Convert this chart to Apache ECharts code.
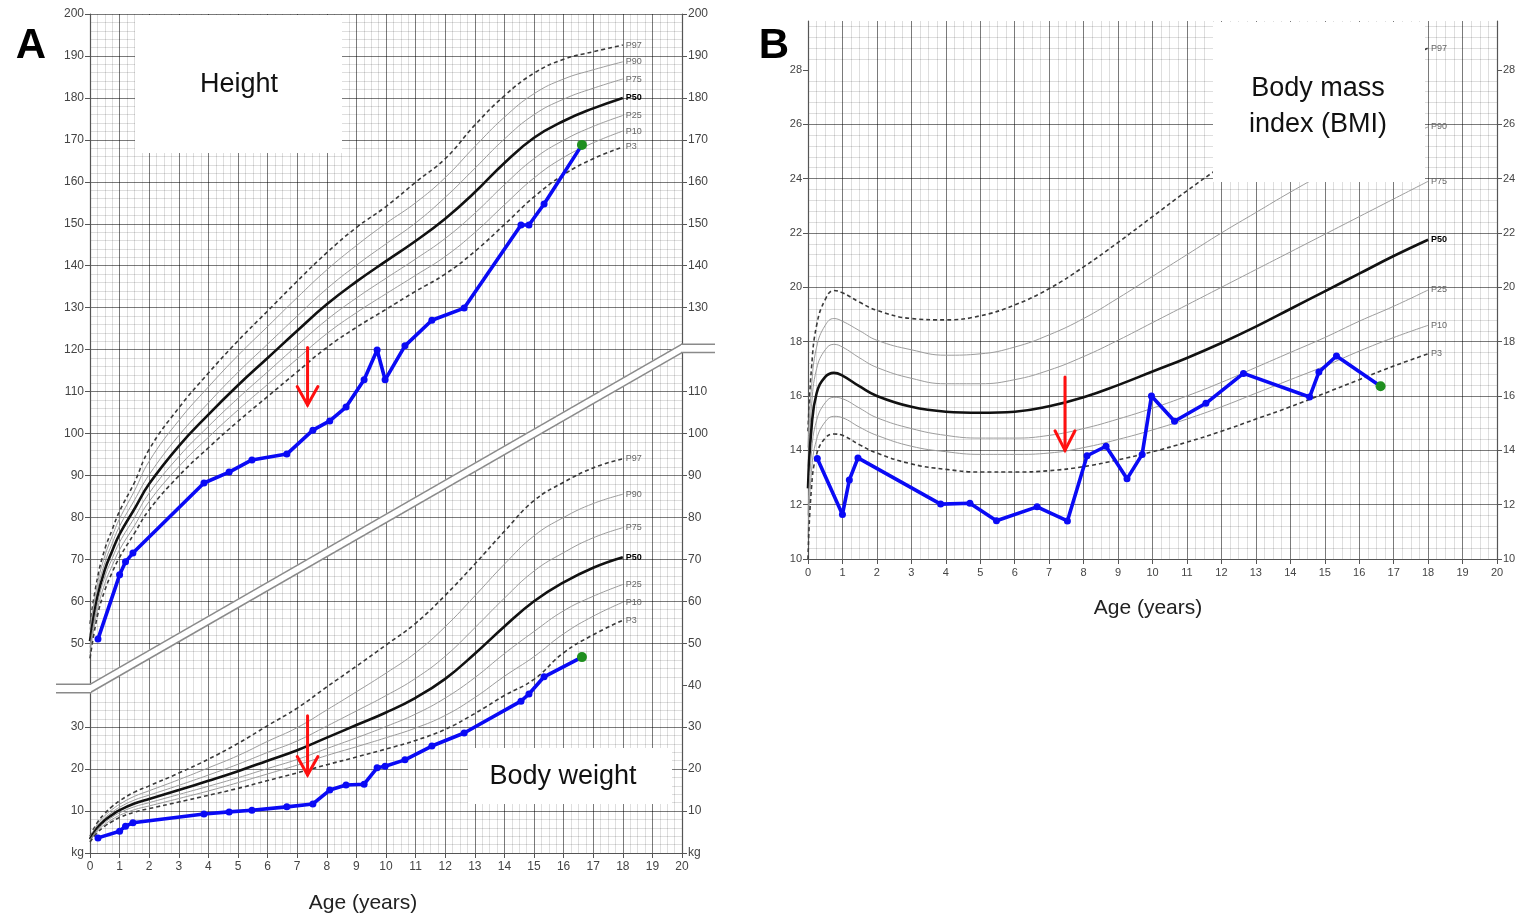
<!DOCTYPE html>
<html><head><meta charset="utf-8">
<script src="https://cdn.jsdelivr.net/npm/echarts@6/dist/echarts.min.js"></script>
<style>html,body{margin:0;padding:0;background:#fff}#c{width:1520px;height:918px}</style>
</head><body><div id="c"></div>
<script>
// ---------- Panel A: height / weight reference percentiles ----------
const ageA = [0,0.25,0.5,0.75,1,1.5,2,3,4,5,6,7,8,9,10,11,12,13,14,15,16,17,18];
const hP3  = [46.4,56.5,62.6,66.9,70.5,76.2,81.8,89.9,96.6,102.9,108.8,114.7,120.5,125.3,129.6,133.9,138.0,143.4,149.8,156.4,161.7,165.5,168.3];
const hP10 = [47.7,57.9,64.2,68.5,72.3,78,83.8,92.1,99.1,105.6,111.7,117.8,123.8,128.8,133.3,137.7,142.2,147.9,154.5,160.9,165.8,169.3,172.1];
const hP25 = [49,59.4,65.8,70.2,74.1,79.9,85.8,94.5,101.7,108.4,114.7,121,127.1,132.3,137,141.6,146.5,152.5,159.3,165.5,169.9,173.2,175.8];
const hP50 = [50.5,61,67.5,72,76,82,88,97,104.5,111.5,118,124.5,130.8,136.2,141.1,145.9,151.2,157.5,164.5,170.5,174.5,177.5,180];
const hP75 = [52,62.6,69.2,73.8,77.9,84.1,90.2,99.5,107.3,114.6,121.3,128,134.5,140.1,145.2,150.2,156.3,163.2,170.2,176,179.7,182.3,184.5];
const hP90 = [53.3,64.1,70.8,75.5,79.7,86.3,93.4,103.1,111.1,118.6,125.5,132.4,139,144.8,150.1,155,161,168.4,175.4,181,184.5,186.7,188.6];
const hP97 = [54.6,65.5,72.4,77.1,81.5,88.3,96.2,106.1,114.4,122.1,129.2,136.3,143.1,149.1,154.1,159.9,165.5,173.5,180.5,185.9,189.2,191,192.6];

const wP3  = [2.64,4.86,6.4,7.51,8.47,9.74,10.58,12.15,13.76,15.4,17.27,19.11,21.04,22.88,24.79,26.83,29.47,33.25,37.53,41.4,47.73,52.02,55.48];
const wP10 = [2.84,5.22,6.83,8.01,8.98,10.33,11.22,12.98,14.79,16.77,18.85,20.95,23.24,25.32,27.47,29.79,32.79,37.05,42.12,46.8,52.25,56.44,59.78];
const wP25 = [3.07,5.61,7.29,8.55,9.59,11.03,12.0,13.95,15.91,17.94,20.13,22.3,24.89,27.45,30.15,33.12,36.94,41.8,47.52,52.8,57.73,61.2,64.01];
const wP50 = [3.3,6,7.8,9.1,10.2,11.8,12.9,15,17.2,19.5,22,24.5,27.5,30.5,33.5,37,41.5,47.5,54,60,64.5,68,70.5];
const wP75 = [3.53,6.42,8.35,9.74,10.91,12.63,13.8,16.13,18.58,21.16,23.98,26.71,30.25,33.86,37.52,41.63,46.9,53.68,60.75,67.2,71.6,75.14,77.55];
const wP90 = [3.76,6.84,8.89,10.37,11.63,13.51,14.84,17.48,20.3,23.21,26.62,29.89,34.1,38.43,42.88,47.73,53.95,61.28,68.85,75.6,79.98,83.3,85.52];
const wP97 = [3.96,7.26,9.44,11.1,12.44,14.51,16.0,19.05,22.36,26.13,30.36,34.55,39.6,44.53,49.58,54.76,61.42,68.88,76.68,84.0,88.37,91.8,93.98];

// ---------- Panel B: BMI reference percentiles ----------
const ageB = [0,0.1,0.25,0.5,0.75,1,1.5,2,3,4,5,6,7,8,9,10,11,12,13,14,15,16,17,18];
const bP3  = [10.0,12.6,13.85,14.45,14.6,14.55,14.2,13.9,13.5,13.3,13.2,13.2,13.25,13.4,13.65,13.95,14.3,14.7,15.15,15.6,16.1,16.6,17.1,17.55];
const bP10 = [10.8,13.2,14.4,15.05,15.25,15.2,14.85,14.55,14.15,13.95,13.85,13.85,13.9,14.1,14.4,14.75,15.15,15.6,16.1,16.6,17.1,17.65,18.15,18.6];
const bP25 = [11.6,13.9,15.1,15.75,15.95,15.9,15.55,15.2,14.8,14.55,14.45,14.45,14.55,14.8,15.15,15.55,16.0,16.5,17.05,17.6,18.15,18.75,19.3,19.9];
const bP50 = [12.6,14.8,16.1,16.7,16.85,16.75,16.35,16.0,15.6,15.42,15.38,15.42,15.62,15.95,16.4,16.9,17.4,17.95,18.55,19.2,19.85,20.5,21.15,21.75];
const bP75 = [13.4,15.6,17.0,17.7,17.9,17.8,17.4,17.05,16.65,16.45,16.45,16.6,16.95,17.45,18.05,18.7,19.35,20.0,20.65,21.3,21.95,22.6,23.25,23.9];
const bP90 = [14.1,16.3,17.8,18.6,18.85,18.75,18.4,18.05,17.7,17.5,17.55,17.8,18.25,18.85,19.6,20.4,21.2,22.0,22.75,23.5,24.2,24.85,25.4,25.9];
const bP97 = [14.7,17.0,18.6,19.55,19.88,19.8,19.45,19.15,18.85,18.8,18.95,19.35,19.95,20.75,21.65,22.6,23.55,24.45,25.3,26.1,26.85,27.6,28.25,28.8];

// ---------- Patient measurements ----------
const patAge    = [0.27,1.0,1.2,1.45,3.85,4.7,5.47,6.65,7.53,8.1,8.65,9.26,9.7,9.97,10.64,11.55,12.64,14.56,14.83,15.34,16.62];
const patHeight = [51,66.3,69.4,71.5,88.2,90.8,93.7,95.1,100.8,103,106.3,112.8,119.9,112.8,120.9,127,129.9,149.7,149.7,154.7,168.8];
const patWeight = [3.6,5.2,6.4,7.2,9.3,9.8,10.2,11.0,11.7,15.0,16.2,16.4,20.3,20.7,22.2,25.5,28.6,36.2,37.9,42.0,46.7];
const patBMI    = [13.7,11.64,12.91,13.72,12.02,12.05,11.41,11.92,11.4,13.8,14.15,12.95,13.85,16.0,15.07,15.73,16.83,15.96,16.88,17.47,16.36];

// ---------- Annotations ----------
const arrowHeight = {shaft:[[7.35,120.5],[7.35,106.8]], head:[[7.0,111.2],[7.35,106.8],[7.7,111.2]]};
const arrowWeight = {shaft:[[7.35,32.7],[7.35,18.6]], head:[[7.0,23.0],[7.35,18.6],[7.7,23.0]]};
const arrowBMI    = {shaft:[[7.46,16.7],[7.46,14.0]], head:[[7.17,14.72],[7.46,14.0],[7.75,14.72]]};
const breakTop    = [[0,40.2],[20,121.3]];
const breakMid    = [[0,39.2],[20,120.3]];
const breakBot    = [[0,38.2],[20,119.3]];

const ticksA = [0,10,20,30,40,50,60,70,80,90,100,110,120,130,140,150,160,170,180,190,200];
const ticksB = [10,12,14,16,18,20,22,24,26,28];
const ticksX = [0,1,2,3,4,5,6,7,8,9,10,11,12,13,14,15,16,17,18,19,20];

const FONT = '"Liberation Sans", Arial, Helvetica, sans-serif';
const chart = echarts.init(document.getElementById('c'));

const STY = {
  dash: {color:'#3a3a3a', width:1.6, type:[4,3]},
  thin: {color:'#9c9c9c', width:1, type:'solid'},
  bold: {color:'#111111', width:2.6, type:'solid'}
};
function pct(label, ages, vals, panel, kind) {
  return {
    type:'line', xAxisIndex: panel, yAxisIndex: panel === 0 ? 0 : 2,
    data: ages.map((a,i)=>[a, vals[i]]),
    showSymbol:false, symbol:'none', smooth:0.45,
    lineStyle: STY[kind], z:3, silent:true, animation:false,
    endLabel:{show:true, formatter:label, distance:3, fontSize:9, fontFamily:FONT,
      color: kind==='bold' ? '#000' : '#666', fontWeight: kind==='bold' ? 'bold' : 'normal'}
  };
}
function patient(vals, panel) {
  const data = patAge.map((a,i)=>[a, vals[i]]);
  const n = data.length - 1;
  data[n] = {value: data[n], symbolSize: 10, itemStyle:{color:'#1f8f1f'}};
  return {type:'line', xAxisIndex: panel, yAxisIndex: panel === 0 ? 0 : 2, data,
    symbol:'circle', symbolSize:7, showSymbol:true, showAllSymbol:true,
    lineStyle:{color:'#0a0af5', width:3.6, type:'solid'}, itemStyle:{color:'#0a0af5'}, z:10, silent:true, animation:false};
}
function arrow(a, panel) {
  const base = {type:'line', xAxisIndex: panel, yAxisIndex: panel === 0 ? 0 : 2, symbol:'none',
    lineStyle:{color:'#ff1010', width:3, cap:'round', join:'miter', type:'solid'}, z:11, silent:true, animation:false};
  return [Object.assign({data:a.shaft}, base), Object.assign({data:a.head}, base)];
}
function band(data, color, width, z) {
  return {type:'line', xAxisIndex:0, yAxisIndex:0, data, symbol:'none', clip:false,
    lineStyle:{color, width, join:'miter', type:'solid'}, z, silent:true, animation:false};
}

const majorLine = {show:true, lineStyle:{color:'rgba(0,0,0,0.52)', width:1, type:'solid'}};
const minorLine = {show:true, lineStyle:{color:'rgba(0,0,0,0.13)', width:1, type:'solid'}};
const axLine = {show:true, onZero:false, lineStyle:{color:'#555', width:1.2, type:'solid'}};
const tick = {show:true, length:5, lineStyle:{color:'#555', type:'solid'}};

function xAx(grid, fs) {
  return {gridIndex:grid, type:'value', min:0, max:20, interval:1,
    axisLine:axLine, axisTick:tick,
    axisLabel:{color:'#444', fontSize:fs, margin:8, fontFamily:FONT, customValues:ticksX},
    splitLine:majorLine, minorTick:{show:false, splitNumber:4}, minorSplitLine:minorLine};
}

const boxes = [
  {type:'rect', z:100, shape:{x:135, y:15, width:207, height:138}, style:{fill:'#ffffff'}},
  {type:'text', z:101, x:239, y:85, style:{text:'Height', font:'27px '+FONT, fill:'#111', align:'center', verticalAlign:'middle'}},
  {type:'rect', z:100, shape:{x:468, y:748, width:204, height:56}, style:{fill:'#ffffff'}},
  {type:'text', z:101, x:563, y:777, style:{text:'Body weight', font:'27px '+FONT, fill:'#111', align:'center', verticalAlign:'middle'}},
  {type:'rect', z:100, shape:{x:1213, y:22, width:212, height:160}, style:{fill:'#ffffff'}},
  {type:'text', z:101, x:1318, y:89, style:{text:'Body mass', font:'27px '+FONT, fill:'#111', align:'center', verticalAlign:'middle'}},
  {type:'text', z:101, x:1318, y:125, style:{text:'index (BMI)', font:'27px '+FONT, fill:'#111', align:'center', verticalAlign:'middle'}},
  {type:'text', z:101, x:31, y:46, style:{text:'A', font:'bold 42px '+FONT, fill:'#000', align:'center', verticalAlign:'middle'}},
  {type:'text', z:101, x:774, y:46, style:{text:'B', font:'bold 42px '+FONT, fill:'#000', align:'center', verticalAlign:'middle'}},
  {type:'text', z:101, x:363, y:903, style:{text:'Age (years)', font:'21px '+FONT, fill:'#222', align:'center', verticalAlign:'middle'}},
  {type:'text', z:101, x:1148, y:608, style:{text:'Age (years)', font:'21px '+FONT, fill:'#222', align:'center', verticalAlign:'middle'}}
];

const option = {
  animation:false,
  backgroundColor:'#ffffff',
  grid:[
    {left:90, top:14, width:592, height:839},
    {left:808, top:21, width:689, height:538}
  ],
  xAxis:[xAx(0,12), xAx(1,11)],
  yAxis:[
    {gridIndex:0, type:'value', min:0, max:200, interval:10, position:'left',
     axisLine:axLine, axisTick:Object.assign({customValues:ticksA.filter(v=>v!==40)}, tick),
     axisLabel:{color:'#444', fontSize:12, margin:6, fontFamily:FONT,
       customValues:ticksA.filter(v=>v!==40), formatter:v=> v===0 ? 'kg' : String(v)},
     splitLine:majorLine, minorTick:{show:false, splitNumber:5}, minorSplitLine:minorLine},
    {gridIndex:0, type:'value', min:0, max:200, interval:10, position:'right',
     axisLine:axLine, axisTick:Object.assign({customValues:ticksA.filter(v=>v!==120)}, tick),
     axisLabel:{color:'#444', fontSize:12, margin:6, fontFamily:FONT,
       customValues:ticksA.filter(v=>v!==120), formatter:v=> v===0 ? 'kg' : String(v)},
     splitLine:{show:false}},
    {gridIndex:1, type:'value', min:10, max:29.8, interval:2, position:'left',
     axisLine:axLine, axisTick:Object.assign({customValues:ticksB}, tick),
     axisLabel:{color:'#444', fontSize:11, margin:6, fontFamily:FONT, customValues:ticksB},
     splitLine:Object.assign({showMaxLine:false}, majorLine),
     minorTick:{show:false, splitNumber:5}, minorSplitLine:minorLine},
    {gridIndex:1, type:'value', min:10, max:29.8, interval:2, position:'right',
     axisLine:axLine, axisTick:Object.assign({customValues:ticksB}, tick),
     axisLabel:{color:'#444', fontSize:11, margin:6, fontFamily:FONT, customValues:ticksB},
     splitLine:{show:false}}
  ],
  series:[
    band(breakMid, '#ffffff', 8, 5),
    band(breakTop, '#8a8a8a', 1.5, 6),
    band(breakBot, '#8a8a8a', 1.5, 6),
    pct('P97', ageA, hP97, 0, 'dash'), pct('P90', ageA, hP90, 0, 'thin'),
    pct('P75', ageA, hP75, 0, 'thin'), pct('P50', ageA, hP50, 0, 'bold'),
    pct('P25', ageA, hP25, 0, 'thin'), pct('P10', ageA, hP10, 0, 'thin'),
    pct('P3', ageA, hP3, 0, 'dash'),
    pct('P97', ageA, wP97, 0, 'dash'), pct('P90', ageA, wP90, 0, 'thin'),
    pct('P75', ageA, wP75, 0, 'thin'), pct('P50', ageA, wP50, 0, 'bold'),
    pct('P25', ageA, wP25, 0, 'thin'), pct('P10', ageA, wP10, 0, 'thin'),
    pct('P3', ageA, wP3, 0, 'dash'),
    pct('P97', ageB, bP97, 1, 'dash'), pct('P90', ageB, bP90, 1, 'thin'),
    pct('P75', ageB, bP75, 1, 'thin'), pct('P50', ageB, bP50, 1, 'bold'),
    pct('P25', ageB, bP25, 1, 'thin'), pct('P10', ageB, bP10, 1, 'thin'),
    pct('P3', ageB, bP3, 1, 'dash'),
    patient(patHeight, 0), patient(patWeight, 0), patient(patBMI, 1),
    ...arrow(arrowHeight, 0), ...arrow(arrowWeight, 0), ...arrow(arrowBMI, 1)
  ],
  graphic: boxes
};
chart.setOption(option);

// horizontal stubs of the axis-break band, positioned from the axis scale
const px = p => chart.convertToPixel({gridIndex:0}, p);
const lT = px(breakTop[0]), lM = px(breakMid[0]), lB = px(breakBot[0]);
const rT = px(breakTop[1]), rM = px(breakMid[1]), rB = px(breakBot[1]);
const stubL = 56, stubR = 715;
const stub = (x1, x2, y, color, w, z) => ({type:'line', z, silent:true,
  shape:{x1, y1:y, x2, y2:y}, style:{stroke:color, lineWidth:w}});
chart.setOption({graphic: boxes.concat([
  stub(stubL, lM[0]+1, lM[1], '#ffffff', 8, 90),
  stub(stubL, lT[0]+1, lT[1], '#8a8a8a', 1.5, 91),
  stub(stubL, lB[0]+1, lB[1], '#8a8a8a', 1.5, 91),
  stub(rM[0]-1, stubR, rM[1], '#ffffff', 8, 90),
  stub(rT[0]-1, stubR, rT[1], '#8a8a8a', 1.5, 91),
  stub(rB[0]-1, stubR, rB[1], '#8a8a8a', 1.5, 91)
])});
</script>
</body></html>
